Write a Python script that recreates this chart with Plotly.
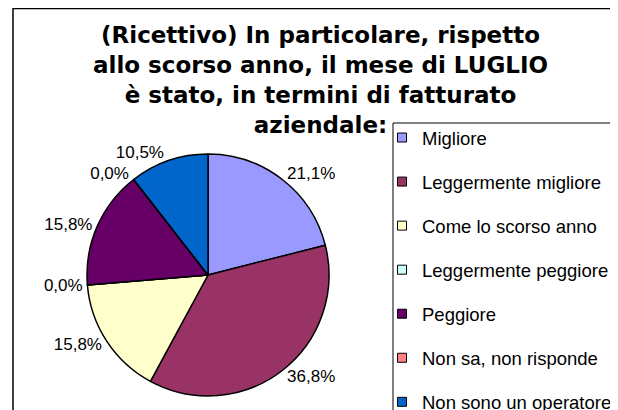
import plotly.graph_objects as go

# survey answers (19 replies)
categories = ["Migliore", "Leggermente migliore", "Come lo scorso anno",
              "Leggermente peggiore", "Peggiore", "Non sa, non risponde",
              "Non sono un operatore"]
counts = [4, 7, 3, 0, 3, 0, 2]
colors = ["#9999FF", "#993366", "#FFFFCC", "#CCFFFF", "#660066", "#FF8080", "#0066CC"]

title_text = ("(Ricettivo) In particolare, rispetto<br>allo scorso anno, il mese di LUGLIO"
              "<br>è stato, in termini di fatturato<br>aziendale:")

# page has an 8px body margin, so the figure is laid out in page pixels minus 8
W, H = 610, 440
OFF = 8


def px(x):
    return (x - OFF) / W


def py(y):
    return 1 - (y - OFF) / H


label_font = dict(family="Liberation Sans, Arial", size=17, color="black")
legend_font = dict(family="Liberation Sans, Arial", size=18.5, color="black")

fig = go.Figure()

fig.add_trace(go.Pie(
    labels=categories,
    values=counts,
    marker=dict(colors=colors, line=dict(color="black", width=1.5)),
    sort=False,
    direction="clockwise",
    rotation=0,
    textposition="outside",
    texttemplate="%{percent:.1%}",
    textfont=label_font,
    showlegend=False,
    hoverinfo="label+percent",
    domain=dict(x=[px(87), px(329)], y=[py(396), py(154)]),
))

# legend entries as dummy traces so the spacing can be set
for cat, col in zip(categories, colors):
    fig.add_trace(go.Scatter(
        x=[None], y=[None], mode="markers", name=cat,
        legendgroup=cat,
        marker=dict(symbol="square", size=9, color=col,
                    line=dict(color="black", width=1)),
    ))

# outer frame and legend box
fig.add_shape(type="rect", xref="paper", yref="paper",
              x0=px(13), x1=px(614), y0=0.01, y1=py(8.5),
              line=dict(color="black", width=1.5))
fig.add_shape(type="rect", xref="paper", yref="paper",
              x0=px(393), x1=px(612), y0=0.01, y1=py(123),
              line=dict(color="black", width=1))

fig.add_annotation(
    text=title_text, xref="paper", yref="paper",
    x=px(320), y=py(80), xanchor="center", yanchor="middle",
    showarrow=False, align="center",
    font=dict(family="DejaVu Sans", size=23, color="black", weight="bold"),
)

fig.update_layout(
    width=W, height=H,
    margin=dict(l=0, r=0, t=0, b=0),
    paper_bgcolor="white",
    plot_bgcolor="white",
    separators=",.",
    xaxis=dict(visible=False),
    yaxis=dict(visible=False),
    legend=dict(x=px(382), xanchor="left", y=py(119), yanchor="top",
                font=legend_font, bgcolor="rgba(0,0,0,0)", borderwidth=0,
                tracegroupgap=17, traceorder="grouped"),
)

fig.write_html("out.html")
